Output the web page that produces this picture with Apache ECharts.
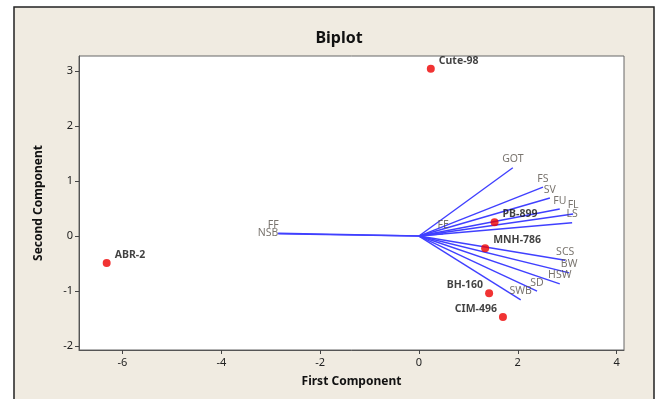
<!DOCTYPE html>
<html>
<head>
<meta charset="utf-8">
<script src="https://cdn.jsdelivr.net/npm/echarts@6/dist/echarts.min.js"></script>
<style>
  html, body { margin: 0; padding: 0; background: #ffffff; }
  #chart { width: 662px; height: 399px; }
</style>
</head>
<body>
<div id="chart"></div>
<script>
// Genotype scores (first / second component)
var genotypes = ['Cute-98', 'ABR-2', 'PB-899', 'MNH-786', 'BH-160', 'CIM-496'];
var genoPC1 = [0.24, -6.32, 1.53, 1.34, 1.42, 1.70];
var genoPC2 = [3.04, -0.49, 0.25, -0.22, -1.04, -1.47];

// Trait loadings (vector end points)
var traits = ['GOT', 'FS', 'SV', 'FU', 'FL', 'LS', 'SCS', 'BW', 'HSW', 'SD', 'SWB', 'FE', 'FF', 'NSB'];
var traitPC1 = [1.90, 2.51, 2.65, 2.85, 3.12, 3.10, 2.96, 3.04, 2.85, 2.39, 2.06, 0.49, -2.85, -2.85];
var traitPC2 = [1.24, 0.89, 0.69, 0.49, 0.40, 0.24, -0.44, -0.67, -0.87, -1.00, -1.16, 0.04, 0.05, 0.04];

// Tick labels
var xTicks = [-6, -4, -2, 0, 2, 4];
var yTicks = [-2, -1, 0, 1, 2, 3];

// Label placement for genotype names
var genoLabelSide = { 'BH-160': 'left', 'CIM-496': 'left' };
// Label nudges for trait names
var traitLabelNudge = { 'FF': [-5, 0], 'NSB': [-10, 8] };

var vectorColor = '#4040ff';

var series = [];
traits.forEach(function (t, i) {
  series.push({
    type: 'line',
    silent: true,
    symbol: 'none',
    z: 2,
    lineStyle: { color: vectorColor, width: 1.4 },
    data: [[0, 0], [traitPC1[i], traitPC2[i]]]
  });
});

series.push({
  type: 'scatter',
  silent: true,
  symbolSize: 0,
  z: 3,
  data: traits.map(function (t, i) {
    var nudge = traitLabelNudge[t] || [0, 0];
    return {
      name: t,
      value: [traitPC1[i], traitPC2[i]],
      label: { offset: nudge }
    };
  }),
  label: {
    show: true,
    position: 'top',
    distance: 3,
    formatter: '{b}',
    color: '#57514a',
    fontFamily: 'Noto Sans',
    fontSize: 10.5
  }
});

series.push({
  type: 'scatter',
  silent: true,
  symbol: 'circle',
  symbolSize: 8,
  z: 4,
  itemStyle: { color: '#ee0000' },
  data: genotypes.map(function (g, i) {
    var left = genoLabelSide[g] === 'left';
    return {
      name: g,
      value: [genoPC1[i], genoPC2[i]],
      label: left
        ? { position: 'left', offset: [0, -8] }
        : { position: 'right', offset: [2, -8] }
    };
  }),
  label: {
    show: true,
    formatter: '{b}',
    distance: 2,
    color: '#111111',
    fontFamily: 'Noto Sans',
    fontWeight: 'bold',
    fontSize: 10.5
  }
});

var chart = echarts.init(document.getElementById('chart'));
chart.setOption({
  animation: false,
  backgroundColor: '#ffffff',
  graphic: [{
    type: 'rect',
    z: -10,
    shape: { x: 14, y: 7, width: 640, height: 420 },
    style: { fill: '#f0ebe1', stroke: '#222222', lineWidth: 1.5 }
  }],
  title: {
    text: 'Biplot',
    left: 334,
    top: 25,
    textAlign: 'center',
    textStyle: { fontFamily: 'Noto Sans', fontWeight: 'bold', fontSize: 16, color: '#111111' }
  },
  grid: {
    left: 79, right: 38, top: 56, bottom: 49,
    show: true,
    backgroundColor: '#ffffff',
    borderColor: '#666666',
    borderWidth: 1
  },
  xAxis: {
    type: 'value',
    min: -6.88,
    max: 4.15,
    name: 'First Component',
    nameLocation: 'middle',
    nameGap: 26,
    nameTextStyle: { fontFamily: 'Noto Sans', fontWeight: 'bold', fontSize: 12, color: '#111111' },
    axisLine: { show: true, onZero: false, lineStyle: { color: '#555555' } },
    axisTick: { show: true, length: 4, customValues: xTicks, lineStyle: { color: '#444444' } },
    axisLabel: { customValues: xTicks, margin: 7, fontFamily: 'Noto Sans', fontSize: 11, color: '#222222' },
    splitLine: { show: false }
  },
  yAxis: {
    type: 'value',
    min: -2.07,
    max: 3.27,
    name: 'Second Component',
    nameLocation: 'middle',
    nameGap: 34,
    nameRotate: 90,
    nameTextStyle: { fontFamily: 'Noto Sans', fontWeight: 'bold', fontSize: 12, color: '#111111' },
    axisLine: { show: true, onZero: false, lineStyle: { color: '#555555' } },
    axisTick: { show: true, length: 4, customValues: yTicks, lineStyle: { color: '#444444' } },
    axisLabel: { customValues: yTicks, margin: 6, fontFamily: 'Noto Sans', fontSize: 11, color: '#222222' },
    splitLine: { show: false }
  },
  series: series
});
</script>
</body>
</html>
